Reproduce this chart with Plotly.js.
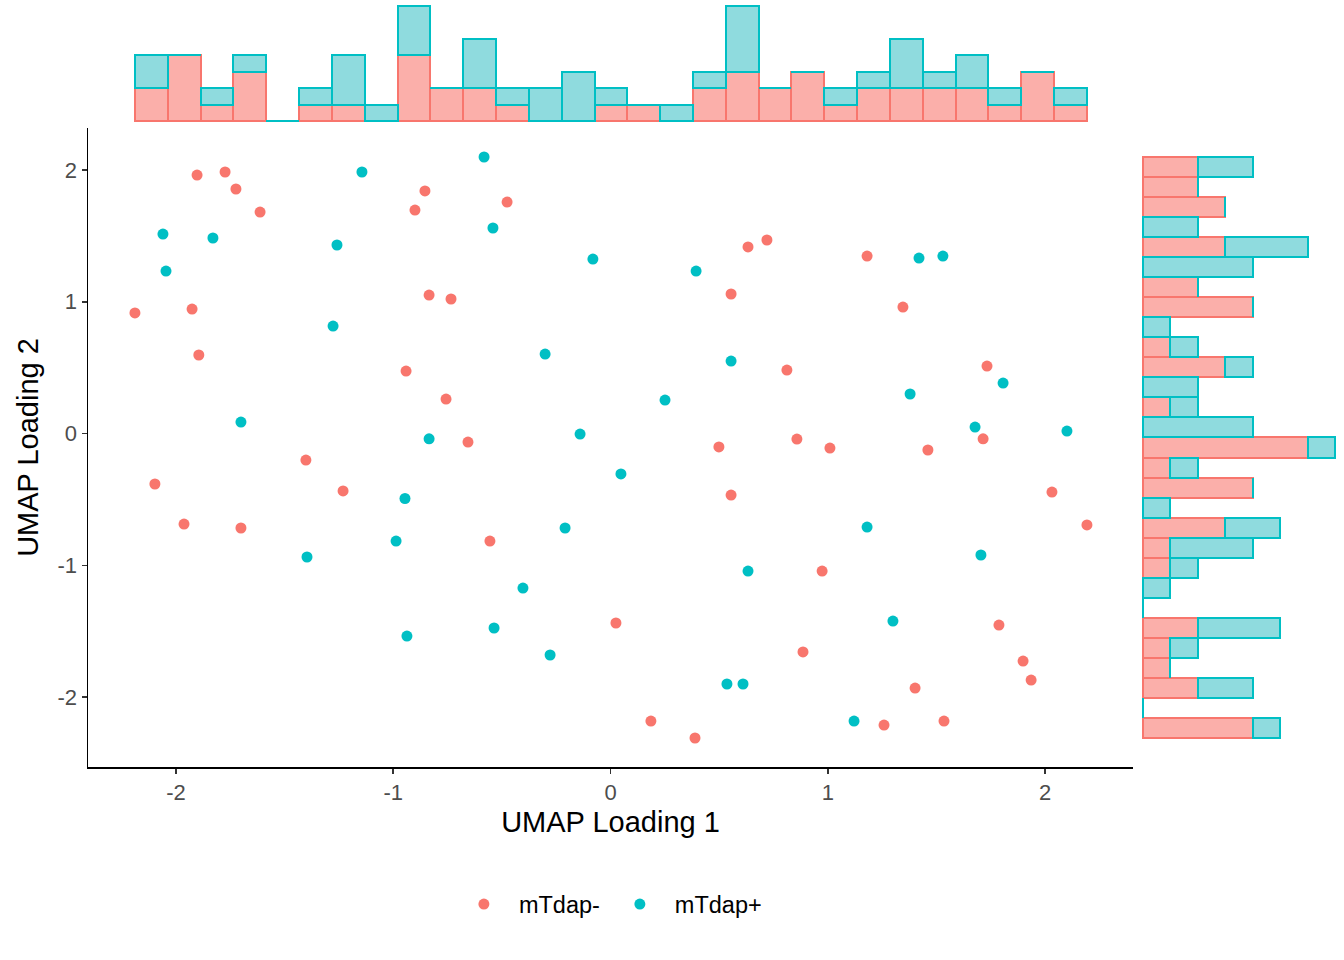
<!DOCTYPE html>
<html>
<head>
<meta charset="utf-8">
<script src="https://cdn.plot.ly/plotly-3.0.1.min.js"></script>
<style>
  body { margin: 0; background: #fff; }
  #myPlot { width: 1344px; height: 960px; }
</style>
</head>
<body>
<div id="myPlot"></div>
<script>
// UMAP loadings
let negX = [-2.189, -2.097, -1.963, -1.926, -1.903, -1.895, -1.774, -1.724, -1.701, -1.613,
            -1.402, -1.231, -0.941, -0.900, -0.854, -0.835, -0.757, -0.734, -0.656, -0.555,
            -0.476, 0.025, 0.186, 0.389, 0.499, 0.555, 0.555, 0.633, 0.720, 0.812,
            0.858, 0.886, 0.974, 1.010, 1.181, 1.259, 1.346, 1.402, 1.461, 1.535,
            1.733, 1.715, 1.788, 1.899, 1.936, 2.032, 2.193];
let negY = [0.915, -0.383, -0.687, 0.945, 1.962, 0.596, 1.985, 1.856, -0.717, 1.681,
            -0.201, -0.436, 0.474, 1.696, 1.841, 1.051, 0.262, 1.021, -0.065, -0.816,
            1.757, -1.438, -2.182, -2.311, -0.102, -0.467, 1.059, 1.416, 1.469, 0.482,
            -0.042, -1.658, -1.044, -0.110, 1.347, -2.213, 0.960, -1.932, -0.125, -2.182,
            0.512, -0.040, -1.454, -1.727, -1.871, -0.444, -0.694];

let posX = [-2.060, -2.046, -1.830, -1.701, -1.397, -1.277, -1.259, -1.144, -0.987, -0.946,
            -0.937, -0.835, -0.582, -0.541, -0.536, -0.403, -0.301, -0.278, -0.209, -0.140,
            -0.081, 0.048, 0.251, 0.394, 0.536, 0.555, 0.610, 0.633, 1.121, 1.181,
            1.300, 1.379, 1.420, 1.530, 1.678, 1.705, 1.807, 2.101];
let posY = [1.514, 1.233, 1.484, 0.087, -0.937, 0.816, 1.431, 1.985, -0.816, -0.493,
            -1.537, -0.040, 2.099, 1.560, -1.476, -1.173, 0.603, -1.681, -0.717, -0.004,
            1.324, -0.307, 0.254, 1.233, -1.901, 0.550, -1.901, -1.044, -2.182, -0.710,
            -1.423, 0.300, 1.332, 1.347, 0.049, -0.922, 0.383, 0.019];

let groups = ['mTdap-', 'mTdap+'];
let colors = ['#F8766D', '#00BFC4'];
let fills = ['rgba(248,118,109,0.58)', 'rgba(20,180,185,0.48)'];
let nBins = 29;

// equal width bins over the pooled range, like the marginal histograms
function binCounts(vals, lo, hi) {
  let w = (hi - lo) / nBins;
  let counts = new Array(nBins).fill(0);
  vals.forEach(function(v) {
    let i = Math.floor((v - lo) / w);
    if (i >= nBins) i = nBins - 1;
    if (i < 0) i = 0;
    counts[i]++;
  });
  return counts;
}

let allX = negX.concat(posX), allY = negY.concat(posY);
let xLo = Math.min.apply(null, allX), xHi = Math.max.apply(null, allX);
let yLo = Math.min.apply(null, allY), yHi = Math.max.apply(null, allY);
let wx = (xHi - xLo) / nBins, wy = (yHi - yLo) / nBins;
let xMid = [], yMid = [];
for (let i = 0; i < nBins; i++) {
  xMid.push(xLo + wx * (i + 0.5));
  yMid.push(yLo + wy * (i + 0.5));
}

let xs = [negX, posX], ys = [negY, posY];
var data = [];

// marginal histograms (stacked, mTdap- at the bottom)
for (let g = 0; g < 2; g++) {
  data.push({
    type: 'bar', x: xMid, y: binCounts(xs[g], xLo, xHi), width: wx,
    xaxis: 'x2', yaxis: 'y2', showlegend: false, hoverinfo: 'skip',
    marker: { color: fills[g], line: { color: colors[g], width: 2 } }
  });
  data.push({
    type: 'bar', orientation: 'h', y: yMid, x: binCounts(ys[g], yLo, yHi), width: wy,
    xaxis: 'x3', yaxis: 'y3', showlegend: false, hoverinfo: 'skip',
    marker: { color: fills[g], line: { color: colors[g], width: 2 } }
  });
}

for (let g = 0; g < 2; g++) {
  data.push({
    type: 'scatter', mode: 'markers', name: groups[g],
    x: xs[g], y: ys[g],
    marker: { color: colors[g], size: 11 }
  });
}

let tickFont = { family: 'Liberation Sans, Arial, sans-serif', size: 22, color: '#4D4D4D' };
let titleFont = { family: 'Liberation Sans, Arial, sans-serif', size: 29, color: '#000000' };
let hidden = { showgrid: false, zeroline: false, showticklabels: false, showline: false, ticks: '' };

var layout = {
  width: 1344, height: 960,
  margin: { l: 0, r: 0, t: 0, b: 0 },
  paper_bgcolor: '#ffffff', plot_bgcolor: 'rgba(0,0,0,0)',
  barmode: 'stack', bargap: 0,
  showlegend: true,
  legend: {
    orientation: 'h', traceorder: 'normal',
    x: 0.334, xanchor: 'left', y: 0.058, yanchor: 'middle',
    font: { family: 'Liberation Sans, Arial, sans-serif', size: 23.5, color: '#000000' },
    itemwidth: 60
  },
  xaxis: {
    domain: [88 / 1344, 1133 / 1344], range: [-2.405, 2.405],
    tickvals: [-2, -1, 0, 1, 2], ticktext: ['-2', '-1', '0', '1', '2'],
    showline: true, linecolor: '#000000', linewidth: 1.5,
    ticks: 'outside', ticklen: 5, tickwidth: 1.5, tickcolor: '#333333',
    showgrid: false, zeroline: false, tickfont: tickFont,
    title: { text: 'UMAP Loading 1', font: titleFont, standoff: 8 }
  },
  yaxis: {
    domain: [1 - 767 / 960, 1 - 128 / 960], range: [-2.531, 2.319],
    tickvals: [-2, -1, 0, 1, 2], ticktext: ['-2', '-1', '0', '1', '2'],
    showline: true, linecolor: '#000000', linewidth: 1.5,
    ticks: 'outside', ticklen: 5, tickwidth: 1.5, tickcolor: '#333333',
    showgrid: false, zeroline: false, tickfont: tickFont,
    title: { text: 'UMAP Loading 2', font: titleFont, standoff: 10 }
  },
  xaxis2: Object.assign({ domain: [88 / 1344, 1133 / 1344], range: [-2.405, 2.405], anchor: 'y2' }, hidden),
  yaxis2: Object.assign({ domain: [1 - 122 / 960, 1 - 4 / 960], range: [-0.06, 7.12], anchor: 'x2' }, hidden),
  xaxis3: Object.assign({ domain: [1142 / 1344, 1340 / 1344], range: [-0.036, 7.18], anchor: 'y3' }, hidden),
  yaxis3: Object.assign({ domain: [1 - 767 / 960, 1 - 128 / 960], range: [-2.531, 2.319], anchor: 'x3' }, hidden)
};

Plotly.newPlot('myPlot', data, layout, { displayModeBar: false, staticPlot: true });
</script>
</body>
</html>
